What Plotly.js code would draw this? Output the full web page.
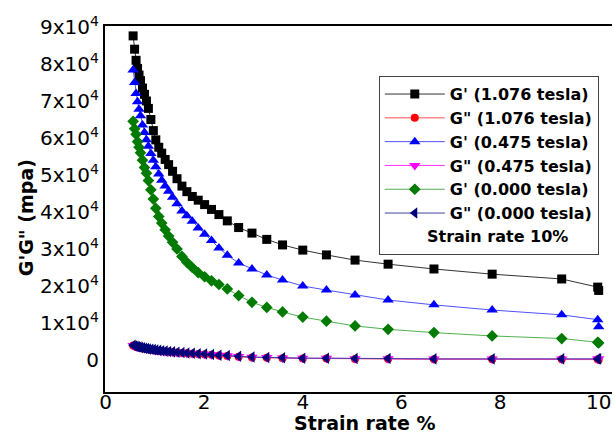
<!DOCTYPE html>
<html>
<head>
<meta charset="utf-8">
<script src="https://cdn.plot.ly/plotly-3.0.1.min.js"></script>
<style>html,body{margin:0;padding:0;background:#fff;}</style>
</head>
<body>
<div id="chart" style="width:614px;height:433px;"></div>
<script>
// Strain rate (%)
const strain = [0.56, 0.59, 0.62, 0.65, 0.68, 0.71, 0.75, 0.79, 0.83, 0.87, 0.92, 0.97, 1.02, 1.08, 1.14, 1.21, 1.28, 1.36, 1.45, 1.55, 1.65, 1.76, 1.88, 2.01, 2.15, 2.30, 2.47, 2.70, 2.97, 3.27, 3.59, 4.00, 4.48, 5.06, 5.73, 6.66, 7.84, 9.25, 9.98, 10.0];

// G' and G'' (mpa)
const gp1076 = [87600, 84000, 81000, 78800, 77000, 75500, 73500, 71800, 70000, 68000, 65000, 62000, 59500, 57500, 55900, 54200, 52800, 51000, 49000, 47000, 45500, 44200, 43200, 42000, 40700, 39300, 37600, 35800, 34300, 32600, 31100, 29700, 28400, 27000, 25900, 24600, 23200, 21900, 19700, 18800];
const gpp1076 = [3900, 3700, 3600, 3500, 3400, 3300, 3200, 3100, 3000, 2900, 2800, 2700, 2600, 2500, 2400, 2300, 2200, 2100, 2000, 1900, 1800, 1700, 1600, 1500, 1400, 1200, 1100, 900, 700, 600, 500, 400, 400, 300, 300, 200, 200, 200, 200, 100];
const gp0475 = [78400, 75000, 72000, 69800, 67800, 66000, 63500, 61500, 59500, 57800, 55800, 54000, 52200, 50300, 48600, 47000, 45600, 44000, 42200, 40300, 39000, 37500, 35700, 34000, 32300, 30300, 28300, 26200, 24600, 23000, 21600, 20000, 18900, 17600, 16200, 14900, 13500, 12200, 10900, 9000];
const gpp0475 = [3950, 3750, 3650, 3550, 3450, 3350, 3250, 3150, 3050, 2950, 2850, 2750, 2650, 2550, 2450, 2350, 2250, 2150, 2050, 1950, 1850, 1750, 1650, 1550, 1450, 1250, 1150, 950, 750, 650, 550, 450, 450, 350, 350, 250, 250, 250, 250, 250];
const gp0000 = [64500, 62500, 61000, 59000, 57500, 56000, 54000, 52000, 50500, 48500, 46000, 43500, 41000, 38800, 37000, 35200, 33500, 31800, 30000, 28000, 26400, 25000, 23600, 22500, 21400, 20400, 19200, 17400, 15600, 14200, 13000, 11600, 10500, 9200, 8300, 7400, 6500, 5800, 4800, 4600];
const gpp0000 = [4000, 3800, 3700, 3600, 3500, 3400, 3300, 3200, 3100, 3000, 2900, 2800, 2700, 2600, 2500, 2400, 2300, 2200, 2100, 2000, 1900, 1800, 1700, 1600, 1500, 1300, 1200, 1000, 800, 700, 600, 500, 500, 400, 400, 300, 300, 300, 300, 300];

const seriesNames = ["G' (1.076 tesla)", 'G" (1.076 tesla)', "G' (0.475 tesla)", 'G" (0.475 tesla)', "G' (0.000 tesla)", 'G" (0.000 tesla)'];
const yTickVals = [0, 10000, 20000, 30000, 40000, 50000, 60000, 70000, 80000, 90000];
const yTickText = ['0', '1x10<sup>4</sup>', '2x10<sup>4</sup>', '3x10<sup>4</sup>', '4x10<sup>4</sup>', '5x10<sup>4</sup>', '6x10<sup>4</sup>', '7x10<sup>4</sup>', '8x10<sup>4</sup>', '9x10<sup>4</sup>'];
const xTickVals = [0, 2, 4, 6, 8, 10];
const xTitle = 'Strain rate %';
const yTitle = 'G\'G" (mpa)';
const noteText = 'Strain rate 10%';

const ys = [gp1076, gpp1076, gp0475, gpp0475, gp0000, gpp0000];
const styles = [
  {line: '#333333', marker: '#000000', symbol: 'square', size: 9},
  {line: '#ff5050', marker: '#ff0000', symbol: 'circle', size: 8},
  {line: '#5050ff', marker: '#0000ff', symbol: 'triangle-up', size: 10},
  {line: '#ff30ff', marker: '#ff00ff', symbol: 'triangle-down', size: 10},
  {line: '#50b050', marker: '#007a00', symbol: 'diamond', size: 9},
  {line: '#4040a0', marker: '#00007a', symbol: 'triangle-left', size: 10}
];

const traces = ys.map((y, i) => ({
  x: strain, y: y, name: seriesNames[i], type: 'scatter', mode: 'lines+markers',
  line: {color: styles[i].line, width: 1},
  marker: {color: styles[i].marker, symbol: styles[i].symbol, size: styles[i].size}
}));
traces.push({x: [null], y: [null], name: '\u00a0', type: 'scatter', mode: 'lines',
  line: {color: 'rgba(0,0,0,0)', width: 1}, hoverinfo: 'skip'});

const layout = {
  width: 614, height: 433,
  margin: {l: 105, r: 2, t: 26, b: 41},
  paper_bgcolor: '#fff', plot_bgcolor: '#fff',
  font: {family: 'DejaVu Sans, sans-serif', color: '#000'},
  showlegend: true,
  xaxis: {
    range: [-0.01, 10.27], tickvals: xTickVals, ticks: '', showgrid: false, zeroline: false,
    showline: true, linecolor: '#000', linewidth: 2, mirror: true, ticklabelstandoff: -9,
    tickfont: {family: 'DejaVu Sans', size: 20, color: '#000'}
  },
  yaxis: {
    range: [-8650, 90270], tickvals: yTickVals, ticktext: yTickText, ticks: '', showgrid: false, zeroline: false,
    showline: true, linecolor: '#000', linewidth: 2, mirror: false,
    tickfont: {family: 'DejaVu Sans', size: 20, color: '#000'}
  },
  legend: {
    x: 0.54, y: 0.863, xanchor: 'left', yanchor: 'top',
    bgcolor: '#fff', bordercolor: '#444', borderwidth: 1,
    font: {family: 'DejaVu Sans', size: 16, weight: 'bold', color: '#000'},
    itemwidth: 60, tracegroupgap: 0
  },
  annotations: [
    {xref: 'paper', yref: 'paper', x: 0.775, y: 0.4235, xanchor: 'center', yanchor: 'middle',
     text: noteText, showarrow: false,
     font: {family: 'DejaVu Sans', size: 16, weight: 'bold', color: '#000'}},
    {xref: 'paper', yref: 'paper', x: 0.511, y: -0.0847, xanchor: 'center', yanchor: 'middle',
     text: xTitle, showarrow: false,
     font: {family: 'DejaVu Sans', size: 19, weight: 'bold', color: '#000'}},
    {xref: 'paper', yref: 'paper', x: -0.1558, y: 0.475, xanchor: 'center', yanchor: 'middle',
     text: yTitle, showarrow: false, textangle: -90,
     font: {family: 'DejaVu Sans', size: 19, weight: 'bold', color: '#000'}}
  ]
};

Plotly.newPlot('chart', traces, layout, {displayModeBar: false, staticPlot: true});
</script>
</body>
</html>
